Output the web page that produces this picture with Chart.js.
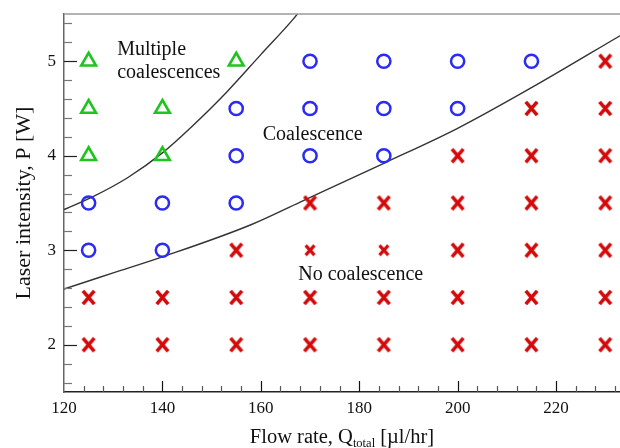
<!DOCTYPE html>
<html>
<head>
<meta charset="utf-8">
<script src="https://cdn.jsdelivr.net/npm/chart.js@4.4.1/dist/chart.umd.min.js"></script>
<style>
  html, body { margin: 0; padding: 0; background: #fff; }
</style>
</head>
<body>
<canvas id="regimeChart" width="620" height="448"></canvas>
<script>
// Measured points: flow rate (x) against laser power (y), one code per cell
const flowRates = [125, 140, 155, 170, 185, 200, 215, 230];
const laserPowers = [5, 4.5, 4, 3.5, 3, 2.5, 2];
// M = multiple coalescences, C = coalescence, N = no coalescence,
// n = no coalescence (drawn smaller in the figure), - = no point
const regimeRows = [
    ['M', '-', 'M', 'C', 'C', 'C', 'C', 'N'],
    ['M', 'M', 'C', 'C', 'C', 'C', 'N', 'N'],
    ['M', 'M', 'C', 'C', 'C', 'N', 'N', 'N'],
    ['C', 'C', 'C', 'N', 'N', 'N', 'N', 'N'],
    ['C', 'C', 'N', 'n', 'n', 'N', 'N', 'N'],
    ['N', 'N', 'N', 'N', 'N', 'N', 'N', 'N'],
    ['N', 'N', 'N', 'N', 'N', 'N', 'N', 'N']
];

// Regime boundaries
const upperBoundQ = [120, 126, 133, 140, 146, 153, 160, 166.5, 168.5];
const upperBoundP = [3.43, 3.57, 3.77, 4.03, 4.31, 4.67, 5.07, 5.44, 5.57];
const lowerBoundQ = [120, 130, 140, 158, 168, 185, 200, 215, 233];
const lowerBoundP = [2.59, 2.76, 2.93, 3.27, 3.51, 3.92, 4.29, 4.72, 5.27];

const xTickLabels = [120, 140, 160, 180, 200, 220];
const yTickLabels = [2, 3, 4, 5];

const SERIF = '"Liberation Serif", "Times New Roman", serif';
Chart.defaults.font.family = SERIF;
Chart.defaults.color = '#111';

function pointsFor(code) {
    const pts = [];
    regimeRows.forEach((row, i) => {
        row.forEach((c, j) => {
            if (c === code) pts.push({ x: flowRates[j], y: laserPowers[i] });
        });
    });
    return pts;
}

function curve(qs, ps) {
    return qs.map((q, i) => ({ x: q, y: ps[i] }));
}

// red "x" marks as small canvases
function makeCross(w, h, lw) {
    const c = document.createElement('canvas');
    c.width = w;
    c.height = h;
    const g = c.getContext('2d');
    g.strokeStyle = '#d40a0a';
    g.lineWidth = lw;
    const p = lw / 2;
    g.beginPath();
    g.moveTo(p, p);
    g.lineTo(w - p, h - p);
    g.moveTo(w - p, p);
    g.lineTo(p, h - p);
    g.stroke();
    return c;
}
const bigCross = makeCross(15, 17, 3.6);
const smallCross = makeCross(12, 13, 3.2);

// inward tick marks, top frame line, region labels and x title
const frameDecor = {
    id: 'frameDecor',
    afterDraw(chart) {
        const { ctx, chartArea: a, scales: { x, y } } = chart;
        ctx.save();

        ctx.strokeStyle = '#9a9a9a';
        ctx.lineWidth = 1.5;
        ctx.beginPath();
        ctx.moveTo(a.left, a.top);
        ctx.lineTo(a.right, a.top);
        ctx.stroke();

        ctx.lineWidth = 1.2;
        y.ticks.forEach(t => {
            if (t.value <= y.min || t.value >= y.max) return;
            const major = yTickLabels.includes(t.value);
            const py = Math.round(y.getPixelForValue(t.value)) + 0.5;
            ctx.strokeStyle = major ? '#222' : '#777';
            ctx.beginPath();
            ctx.moveTo(a.left, py);
            ctx.lineTo(a.left + (major ? 13 : 8), py);
            ctx.stroke();
        });
        x.ticks.forEach(t => {
            if (t.value <= x.min || t.value >= x.max) return;
            const major = xTickLabels.includes(t.value);
            const px = Math.round(x.getPixelForValue(t.value)) + 0.5;
            ctx.strokeStyle = major ? '#111' : '#555';
            ctx.beginPath();
            ctx.moveTo(px, a.bottom);
            ctx.lineTo(px, a.bottom - (major ? 11 : 6));
            ctx.stroke();
        });

        // region labels
        ctx.fillStyle = '#111';
        ctx.font = '20px ' + SERIF;
        ctx.textAlign = 'left';
        ctx.textBaseline = 'alphabetic';
        const put = (txt, q, p) => ctx.fillText(txt, x.getPixelForValue(q), y.getPixelForValue(p));
        put('Multiple', 130.8, 5.07);
        put('coalescences', 130.8, 4.82);
        put('Coalescence', 160.4, 4.17);
        put('No coalescence', 167.6, 2.69);

        // x axis title with subscript
        const big = '20.5px ' + SERIF, small = '12.5px ' + SERIF;
        const partA = 'Flow rate, Q', partSub = 'total', partB = ' [\u00b5l/hr]';
        ctx.font = big;
        const wA = ctx.measureText(partA).width, wB = ctx.measureText(partB).width;
        ctx.font = small;
        const wS = ctx.measureText(partSub).width;
        let cx = (a.left + a.right) / 2 - (wA + wS + wB) / 2;
        const base = 443;
        ctx.font = big;
        ctx.fillText(partA, cx, base);
        cx += wA;
        ctx.font = small;
        ctx.fillText(partSub, cx, base + 4);
        cx += wS;
        ctx.font = big;
        ctx.fillText(partB, cx, base);

        ctx.restore();
    }
};

const ctx = document.getElementById('regimeChart').getContext('2d');

new Chart(ctx, {
    type: 'scatter',
    data: {
        datasets: [
            {
                label: 'Multiple coalescences',
                data: pointsFor('M'),
                pointStyle: 'triangle',
                pointRadius: 8.5,
                borderWidth: 2.6,
                borderColor: '#1fc41f',
                backgroundColor: 'rgba(0,0,0,0)'
            },
            {
                label: 'Coalescence',
                data: pointsFor('C'),
                pointStyle: 'circle',
                pointRadius: 6.6,
                borderWidth: 2.5,
                borderColor: '#2b2bf5',
                backgroundColor: 'rgba(0,0,0,0)'
            },
            {
                label: 'No coalescence',
                data: pointsFor('N'),
                pointStyle: bigCross
            },
            {
                label: 'No coalescence (small)',
                data: pointsFor('n'),
                pointStyle: smallCross
            },
            {
                label: 'Upper boundary',
                data: curve(upperBoundQ, upperBoundP),
                showLine: true,
                cubicInterpolationMode: 'monotone',
                pointRadius: 0,
                borderColor: '#333',
                borderWidth: 1.4
            },
            {
                label: 'Lower boundary',
                data: curve(lowerBoundQ, lowerBoundP),
                showLine: true,
                cubicInterpolationMode: 'monotone',
                pointRadius: 0,
                borderColor: '#333',
                borderWidth: 1.4
            }
        ]
    },
    options: {
        responsive: false,
        animation: false,
        events: [],
        layout: { autoPadding: false, padding: { top: 14, right: 0, left: 0, bottom: 0 } },
        plugins: {
            legend: { display: false },
            tooltip: { enabled: false }
        },
        scales: {
            x: {
                type: 'linear',
                min: 120,
                max: 233,
                afterBuildTicks: s => {
                    const t = [];
                    for (let v = 120; v <= 232; v += 4) t.push({ value: v });
                    s.ticks = t;
                },
                afterFit: s => {
                    s.height = 56;
                    s.paddingLeft = 0;
                    s.paddingRight = 0;
                },
                ticks: {
                    autoSkip: false,
                    maxRotation: 0,
                    padding: 6,
                    font: { size: 17 },
                    color: '#111',
                    callback: v => xTickLabels.includes(v) ? String(v) : ''
                },
                grid: { drawOnChartArea: false, drawTicks: false },
                border: { color: '#222', width: 1.5 }
            },
            y: {
                type: 'linear',
                min: 1.5,
                max: 5.5,
                afterBuildTicks: s => {
                    const t = [];
                    for (let v = 16; v <= 54; v += 2) t.push({ value: v / 10 });
                    s.ticks = t;
                },
                afterFit: s => {
                    s.width = 64;
                    s.paddingTop = 0;
                    s.paddingBottom = 0;
                },
                ticks: {
                    autoSkip: false,
                    padding: 8,
                    font: { size: 17 },
                    color: '#111',
                    callback: v => yTickLabels.includes(v) ? String(v) : ''
                },
                grid: { drawOnChartArea: false, drawTicks: false },
                border: { color: '#666', width: 1.5 },
                title: {
                    display: true,
                    text: 'Laser intensity, P [W]',
                    font: { size: 22 },
                    color: '#111',
                    padding: { top: 11, bottom: 0 }
                }
            }
        }
    },
    plugins: [frameDecor]
});
</script>
</body>
</html>
